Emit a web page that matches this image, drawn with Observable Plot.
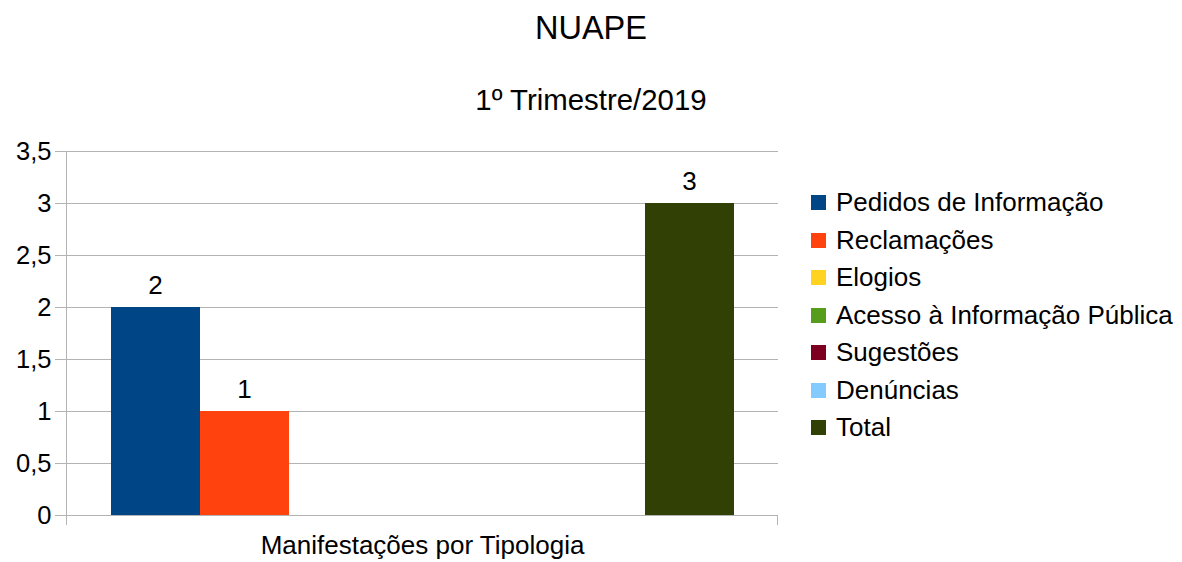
<!DOCTYPE html>
<html>
<head>
<meta charset="utf-8">
<script src="https://cdn.jsdelivr.net/npm/d3@7"></script>
<script src="https://cdn.jsdelivr.net/npm/@observablehq/plot@0.6"></script>
<style>
  html, body { margin: 0; padding: 0; background: #fff; }
  body { font-family: "Liberation Sans", Arial, sans-serif; color: #000; }
  #wrap { position: relative; width: 1182px; height: 562px; overflow: hidden; }
  .title { position: absolute; left: 0; width: 1182px; text-align: center; line-height: 1; }
  #chart { position: absolute; left: 0; top: 135px; }
  #legend { position: absolute; left: 811px; top: 184px; }
  .item { display: flex; align-items: center; height: 37.5px; font-size: 26px; }
  .sw { width: 15px; height: 15px; margin-right: 10px; }
</style>
</head>
<body>
<div id="wrap">
  <div class="title" id="t1" style="top:12px;font-size:32.5px;"></div>
  <div class="title" id="t2" style="top:85px;font-size:29.4px;"></div>
  <div id="chart"></div>
  <div id="legend"></div>
</div>
<script>
const title = "NUAPE";
const subtitle = "1º Trimestre/2019";
const category = "Manifestações por Tipologia";
const series = ["Pedidos de Informação", "Reclamações", "Elogios", "Acesso à Informação Pública", "Sugestões", "Denúncias", "Total"];
const values = [2, 1, 0, 0, 0, 0, 3];
const colors = ["#004586", "#ff420e", "#ffd320", "#579d1c", "#7e0021", "#83caff", "#314004"];
const yTicks = [0, 0.5, 1, 1.5, 2, 2.5, 3, 3.5];

document.getElementById("t1").textContent = title;
document.getElementById("t2").textContent = subtitle;

const data = series.map((s, i) => ({series: s, value: values[i]}));
const comma = d => String(d).replace(".", ",");

const edgeTicks = (index, scales, values, dim) => {
  const g = d3.create("svg:g").attr("stroke", "#b3b3b3").attr("stroke-width", 1);
  const x0 = dim.marginLeft + 0.5, x1 = dim.width - dim.marginRight - 0.5;
  const yT = dim.marginTop, yB = dim.height - dim.marginBottom;
  g.append("line").attr("x1", x0).attr("x2", x0).attr("y1", yT).attr("y2", yB + 10);
  g.append("line").attr("x1", x1).attr("x2", x1).attr("y1", yB).attr("y2", yB + 10);
  return g.node();
};

const chart = Plot.plot({
  width: 790,
  height: 425,
  marginLeft: 66,
  marginRight: 12,
  marginTop: 16,
  marginBottom: 45,
  style: {fontFamily: "Liberation Sans, Arial, sans-serif", fontSize: "25.5px", color: "#000", background: "transparent"},
  x: {type: "band", domain: series, paddingInner: 0, paddingOuter: 0.5, round: false, axis: null},
  y: {domain: [0, 3.5]},
  color: {domain: series, range: colors},
  marks: [
    Plot.gridY(yTicks, {stroke: "#b3b3b3", strokeOpacity: 1}),
    Plot.axisY(yTicks, {tickSize: 11, tickPadding: 4, tickFormat: comma, stroke: "#b3b3b3", fontSize: 25.5, label: null, fill: "#000"}),
    Plot.barY(data, {x: "series", y: "value", fill: "series", shapeRendering: "crispEdges"}),
    Plot.ruleY([0], {stroke: "#b3b3b3"}),
    edgeTicks,
    Plot.text(data.filter(d => d.value > 0), {x: "series", y: "value", text: d => comma(d.value), dy: -22, fontSize: 26, fill: "#000"}),
    Plot.text([category], {frameAnchor: "bottom", dy: 38, text: d => d, fontSize: 26, fill: "#000"})
  ]
});
document.getElementById("chart").appendChild(chart);

const legend = document.getElementById("legend");
series.forEach((s, i) => {
  const it = document.createElement("div");
  it.className = "item";
  const sw = document.createElement("div");
  sw.className = "sw";
  sw.style.background = colors[i];
  const lb = document.createElement("span");
  lb.textContent = s;
  it.appendChild(sw);
  it.appendChild(lb);
  legend.appendChild(it);
});
</script>
</body>
</html>
